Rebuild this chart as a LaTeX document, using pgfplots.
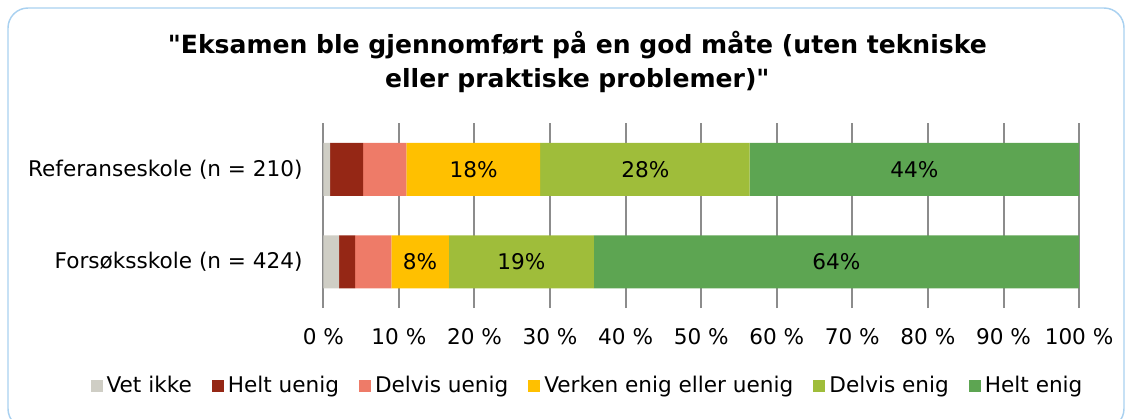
\documentclass[border=0pt]{standalone}
\usepackage{pgfplots}
\usepackage{pgfplotstable}
\pgfplotsset{compat=1.18}
\usepackage{fontspec}
\setmainfont{DejaVu Sans}
\newfontfamily\titlefont{DejaVu Sans}
\definecolor{cVet}{HTML}{CFCEC5}
\definecolor{cHU}{HTML}{952715}
\definecolor{cDU}{HTML}{EE7B68}
\definecolor{cVE}{HTML}{FFC000}
\definecolor{cDE}{HTML}{9FBD3A}
\definecolor{cHE}{HTML}{5DA552}
\definecolor{cGrid}{HTML}{8C8C8C}
\definecolor{cBorder}{HTML}{A9D1F0}

\pgfplotstableread{
y vet helt delu verken dele heltenig
0 2.1 2.1 4.8 7.6 19.2 64.2
1 0.9 4.35 5.75 17.7 27.7 43.6
}\data

\pgfplotstableread{
x y lab
19.9 1 18
42.6 1 28
78.2 1 44
12.8 0 8
26.2 0 19
67.9 0 64
}\labels

\newcommand{\fs}{\fontsize{16.2}{19}\selectfont}

\begin{document}
\begin{tikzpicture}
\useasboundingbox (0,0) rectangle (848.25pt,313.5pt);
\draw[color=cBorder, line width=1.1pt, rounded corners=15pt] (6pt,-8pt) rectangle (843pt,307.5pt);
\node[font=\titlefont\bfseries\fontsize{18.8}{25}\selectfont, align=center] at (433pt,267pt)
  {"Eksamen ble gjennomført på en god måte (uten tekniske\\eller praktiske problemer)"};

\pgfplotsset{common/.style={
  at={(242.5pt,82.5pt)}, anchor=south west,
  width=566.8pt, height=138.75pt, scale only axis,
  xmin=0, xmax=100, ymin=-0.5, ymax=1.5}}

\begin{axis}[common,
  xbar stacked, bar width=39.75pt,
  axis x line*=bottom, axis y line*=left,
  axis line style={draw=none},
  tick style={draw=none},
  ytick={0,1},
  yticklabels={Forsøksskole (n = 424), Referanseskole (n = 210)},
  yticklabel style={font=\fs, xshift=-12pt},
  xtick={0,10,...,100},
  xticklabels={0 \%,10 \%,20 \%,30 \%,40 \%,50 \%,60 \%,70 \%,80 \%,90 \%,100 \%},
  xticklabel style={font=\fs, yshift=-11.5pt},
  xmajorgrids,
  major grid style={color=cGrid, line width=1.5pt},
  legend columns=6,
  legend style={draw=none, fill=none, at={(0.35,-0.42)}, anchor=center, font=\fs,
    /tikz/every even column/.append style={column sep=13pt},
    /tikz/every odd column/.append style={column sep=1pt}},
  legend image code/.code={\fill[#1] (0pt,-4.5pt) rectangle (9pt,4.5pt);},
]
\addplot[fill=cVet, draw=none] table[x=vet, y=y] {\data};
\addplot[fill=cHU, draw=none] table[x=helt, y=y] {\data};
\addplot[fill=cDU, draw=none] table[x=delu, y=y] {\data};
\addplot[fill=cVE, draw=none] table[x=verken, y=y] {\data};
\addplot[fill=cDE, draw=none] table[x=dele, y=y] {\data};
\addplot[fill=cHE, draw=none] table[x=heltenig, y=y] {\data};
\legend{Vet ikke, Helt uenig, Delvis uenig, Verken enig eller uenig, Delvis enig, Helt enig}
\end{axis}

\begin{axis}[common, hide axis]
\addplot[draw=none, no markers, nodes near coords={\pgfplotspointmeta\%},
  point meta=explicit symbolic,
  nodes near coords style={anchor=center, font=\fs, text=black}]
  table[x=x, y=y, meta=lab] {\labels};
\end{axis}
\end{tikzpicture}
\end{document}
